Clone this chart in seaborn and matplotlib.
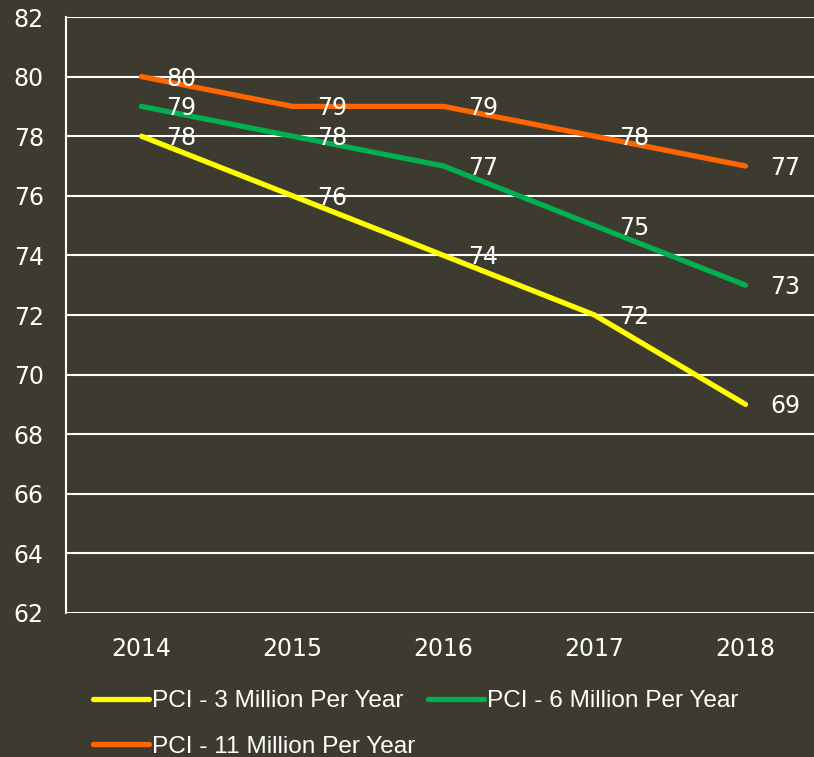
import numpy as np
import pandas as pd
import matplotlib
matplotlib.use("Agg")
import matplotlib.pyplot as plt
import seaborn as sns

years = ["2014", "2015", "2016", "2017", "2018"]
pci_3m = [78, 76, 74, 72, 69]
pci_6m = [79, 78, 77, 75, 73]
pci_11m = [80, 79, 79, 78, 77]
series_names = ["PCI - 3 Million Per Year", "PCI - 6 Million Per Year", "PCI - 11 Million Per Year"]
y_ticks = list(range(62, 83, 2))

bg = "#3d3b2f"
colors = ["#ffff00", "#00b050", "#ff6600"]

df = pd.DataFrame({
    "year": years * 3,
    "pci": pci_3m + pci_6m + pci_11m,
    "series": [series_names[0]] * 5 + [series_names[1]] * 5 + [series_names[2]] * 5,
})

sns.set_style("white")
plt.rcParams["font.family"] = ["DejaVu Sans"]
num_size = 17

fig = plt.figure(figsize=(8.14, 7.57), dpi=100, facecolor=bg)
ax = fig.add_axes([66 / 814, 144 / 757, 755 / 814, 596 / 757])
ax.set_facecolor(bg)

sns.lineplot(data=df, x="year", y="pci", hue="series", palette=colors,
             linewidth=3.8, ax=ax, sort=False, legend=False,
             solid_capstyle="round")

# value labels to the right of each point
for name, vals in zip(series_names, [pci_3m, pci_6m, pci_11m]):
    for i, v in enumerate(vals):
        ax.annotate(str(v), (i, v), xytext=(18, -1.5), textcoords="offset points",
                    ha="left", va="center", color="white", fontsize=num_size)

ax.set_xlim(-0.5, 4.5)
ax.set_ylim(62, 82)
ax.set_yticks(y_ticks)
ax.yaxis.grid(True, color="white", linewidth=1.5)
ax.set_axisbelow(True)
ax.tick_params(axis="both", length=0, colors="white", labelsize=num_size)
ax.tick_params(axis="y", pad=16)
ax.tick_params(axis="x", pad=17)
ax.set_xlabel("")
ax.set_ylabel("")
for side in ["top", "right", "bottom"]:
    ax.spines[side].set_visible(False)
ax.spines["left"].set_color("white")
ax.spines["left"].set_linewidth(1.5)

lines = ax.get_lines()[:3]
order = [0, 2, 1]
leg = fig.legend([lines[i] for i in order], [series_names[i] for i in order],
                 ncol=2, loc="upper left", bbox_to_anchor=(93 / 814, 1 - 690 / 757),
                 frameon=False, prop={"family": "Liberation Sans", "size": 17.6},
                 handlelength=2.3, handletextpad=0.12,
                 columnspacing=0.5, labelspacing=0.96, borderpad=0, borderaxespad=0)
for t in leg.get_texts():
    t.set_color("white")

fig.savefig("out.png", dpi=100, facecolor=bg)
